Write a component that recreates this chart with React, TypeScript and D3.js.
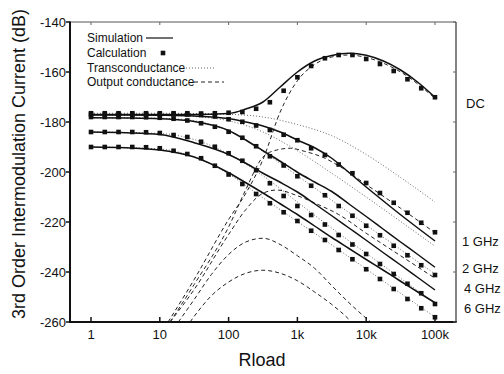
import React from 'react';
import * as d3 from 'd3';

// axis ticks
const yTicks = [-140, -160, -180, -200, -220, -240, -260];
const xTicks = [1, 10, 100, 1000, 10000, 100000];
const xTickLabels = ['1', '10', '100', '1k', '10k', '100k'];

const series = ['DC', '1 GHz', '2 GHz', '4 GHz', '6 GHz'];

// simulation (solid)
const simR = [1, 3.16, 10, 31.6, 100, 178, 316, 562, 1000, 1778, 3162, 5623, 10000, 17780, 31620, 56230, 100000];
const simDC = [-177, -177, -177, -177, -176.6, -174.8, -172, -166, -160, -155.6, -153.4, -152.5, -153.3, -155.6, -159.2, -164.1, -170.1];
const sim1G = [-177.2, -177.2, -177.3, -177.6, -178.6, -180, -181.6, -184, -187.2, -190.3, -194.5, -200.2, -206, -211.6, -217.1, -222.4, -227.6];
const sim2G = [-178.3, -178.4, -178.7, -179.8, -183.4, -187.2, -191.5, -195.7, -200.1, -204, -207.8, -212.8, -217.8, -222.9, -228, -233, -238.1];
const sim4G = [-184, -184.3, -185, -188.3, -193, -196.5, -200.5, -204.1, -208, -212.7, -217.5, -222.4, -227.3, -232.3, -237.2, -242.2, -247.2];
const sim6G = [-190, -190.3, -191.2, -194, -200.3, -204.3, -208.4, -212.7, -217, -221.6, -226.2, -230.6, -235, -239.3, -243.7, -248, -252.3];

// calculation (markers)
const calcR = [1, 1.585, 2.512, 3.981, 6.31, 10, 15.85, 25.12, 39.81, 63.1, 100, 158.5, 251.2, 398.1, 631, 1000, 1585, 2512, 3981, 6310, 10000, 15850, 25120, 39810, 63100, 100000];
const calcDC = [-176.5, -176.5, -176.5, -176.5, -176.5, -176.5, -176.5, -176.5, -176.6, -176.5, -176.3, -176, -174.7, -172.1, -167.5, -162.1, -157.6, -154.5, -153.2, -153.2, -154.8, -156.8, -159.6, -162.9, -166.5, -170.1];
const calc1G = [-177, -177, -177, -177, -177, -177, -177, -177, -177.2, -177.8, -178.9, -179.9, -181.4, -183.2, -185.1, -187.3, -190.5, -193.2, -197, -200.5, -204.4, -208.4, -212.3, -216.3, -220.3, -224.1];
const calc2G = [-178, -178, -178, -178, -178.1, -178.3, -178.7, -179.4, -180.5, -181.9, -183.9, -186.3, -189.7, -193.7, -197.4, -201.7, -205.5, -209.3, -213.6, -217.5, -221.5, -225.3, -229.5, -233.3, -237.3, -241.2];
const calc4G = [-184, -184, -184, -184, -184.1, -184.4, -185.2, -186, -187.9, -189.9, -192.5, -195.5, -199.3, -204.5, -209.6, -213.6, -217.2, -221, -225.2, -229, -232.8, -236.8, -240.8, -244.7, -248.5, -252.8];
const calc6G = [-190, -190, -190, -190, -190.1, -190.5, -191.5, -192.8, -194.5, -197.5, -201, -204.8, -208.8, -212.5, -216.1, -219.6, -223.5, -227.2, -231.2, -234.9, -238.9, -242.8, -246.8, -250.8, -254.5, -258.1];

// transconductance (dotted)
const gmR = [1, 10, 31.6, 100, 316, 1000, 3162, 10000, 31620, 100000];
const gmDC = [-176.5, -176.5, -176.6, -176.9, -178, -181, -185.5, -193, -202.2, -212];
const gm1G = [-177.2, -177.3, -177.8, -179.5, -184, -191.5, -200.5, -210, -219.8, -229.7];
const gm2G = [-178.3, -178.5, -179.5, -183.5, -191.8, -201.5, -211.3, -221.2, -231, -240.8];
const gm4G = [-184, -184.6, -187, -192.8, -201.5, -212, -222.5, -232.5, -242.5, -252.5];
const gm6G = [-190, -190.8, -194, -200.8, -210.3, -219.8, -229.2, -238.8, -248.5, -258];

// output conductance (dashed)
const gdsDCR = [13.2, 31.6, 100, 178, 316, 562, 1000, 1778, 3162, 5623, 10000, 31620, 100000];
const gdsDC = [-260, -243, -219, -208.5, -195, -176, -163.5, -157, -154, -153.2, -154.2, -160, -170.5];
const gds1GR = [14.1, 31.6, 100, 178, 316, 501, 794, 1259, 2512, 3981, 10000, 31620, 100000];
const gds1G = [-260, -245, -222, -207, -194, -191.2, -190.5, -191.7, -194.5, -197.5, -205, -214.5, -224.3];
const gds2GR = [14.1, 31.6, 100, 178, 316, 501, 1000, 1995, 3981, 10000, 31620, 100000];
const gds2G = [-260, -247, -225, -215, -208.5, -207.2, -209.5, -213, -217, -224.5, -233.5, -242.5];
const gds4GR = [18.6, 31.6, 56.2, 100, 178, 316, 562, 1000, 1778, 3162, 5623, 10000, 15850];
const gds4G = [-260, -251, -241, -233, -228, -226.5, -229, -233.5, -238.5, -245.5, -252.3, -258.5, -263];
const gds6GR = [27.5, 56.2, 100, 178, 316, 562, 1000, 1778, 3162, 5623, 7079];
const gds6G = [-260, -249.5, -244, -240.5, -239.3, -240.5, -243.5, -248, -253, -259, -262];

const labelDb = [-172.4, -227.6, -238.4, -246.4, -254.4];

const W = 504;
const H = 374;
const m = { left: 70, right: 48, top: 22, bottom: 52 };
const FONT = '"Liberation Sans", Arial, Helvetica, sans-serif';

const zip = (xs: number[], ys: number[]) => xs.map((v, i) => [v, ys[i]] as [number, number]);

export default function App() {
  const x = d3.scaleLog().domain([0.495, 202000]).range([m.left, W - m.right]);
  const y = d3.scaleLinear().domain([-260, -140]).range([H - m.bottom, m.top]);

  const line = d3
    .line<[number, number]>()
    .x((d) => x(d[0]))
    .y((d) => y(d[1]))
    .curve(d3.curveMonotoneX);

  const sims = [simDC, sim1G, sim2G, sim4G, sim6G];
  const calcs = [calcDC, calc1G, calc2G, calc4G, calc6G];
  const gms = [gmDC, gm1G, gm2G, gm4G, gm6G];
  const gdsList = [
    zip(gdsDCR, gdsDC),
    zip(gds1GR, gds1G),
    zip(gds2GR, gds2G),
    zip(gds4GR, gds4G),
    zip(gds6GR, gds6G),
  ];

  const x0 = m.left;
  const x1 = W - m.right;
  const y0 = m.top;
  const y1 = H - m.bottom;
  const ms = 4.6;

  return (
    <svg
      width={W}
      height={H}
      style={{ position: 'absolute', left: 0, top: 0, background: '#fff' }}
      fontFamily={FONT}
    >
      <defs>
        <clipPath id="plot">
          <rect x={x0} y={y0} width={x1 - x0} height={y1 - y0} />
        </clipPath>
      </defs>

      <g clipPath="url(#plot)">
        {gms.map((g, i) => (
          <path key={'gm' + i} d={line(zip(gmR, g)) || ''} fill="none" stroke="#666" strokeWidth={1} strokeDasharray="1,2" />
        ))}
        {gdsList.map((g, i) => (
          <path key={'gds' + i} d={line(g) || ''} fill="none" stroke="#222" strokeWidth={1} strokeDasharray="4,3" />
        ))}
        {sims.map((s, i) => (
          <path key={'sim' + i} d={line(zip(simR, s)) || ''} fill="none" stroke="#111" strokeWidth={1.5} />
        ))}
        {calcs.map((c, i) =>
          c.map((v, j) => (
            <rect key={'c' + i + '-' + j} x={x(calcR[j]) - ms / 2} y={y(v) - ms / 2} width={ms} height={ms} fill="#111" />
          ))
        )}
      </g>

      {/* frame */}
      <line x1={x0} x2={x1} y1={y0} y2={y0} stroke="#555" strokeWidth={1} />
      <line x1={x1} x2={x1} y1={y0} y2={y1} stroke="#333" strokeWidth={1.2} />
      <line x1={x0} x2={x0} y1={y0 - 0.5} y2={y1 + 1} stroke="#111" strokeWidth={2} />
      <line x1={x0 - 1} x2={x1 + 0.6} y1={y1} y2={y1} stroke="#111" strokeWidth={2} />

      {/* y axis */}
      {yTicks.map((t) => (
        <g key={'yt' + t}>
          <line x1={x0 - 4} x2={x0} y1={y(t)} y2={y(t)} stroke="#111" strokeWidth={1.5} />
          <line x1={x1 - 3} x2={x1} y1={y(t)} y2={y(t)} stroke="#666" strokeWidth={1} />
          <text x={x0 - 4} y={y(t)} dy="0.35em" textAnchor="end" fontSize={13} fill="#111">
            {t}
          </text>
        </g>
      ))}

      {/* x axis */}
      {xTicks.map((t, i) => (
        <g key={'xt' + t}>
          <line x1={x(t)} x2={x(t)} y1={y1} y2={y1 - 5} stroke="#111" strokeWidth={1.5} />
          <line x1={x(t)} x2={x(t)} y1={y0} y2={y0 + 3} stroke="#666" strokeWidth={1} />
          <text x={x(t)} y={y1 + 17} textAnchor="middle" fontSize={13} fill="#111">
            {xTickLabels[i]}
          </text>
        </g>
      ))}

      <text x={262} y={366} textAnchor="middle" fontSize={18} fill="#111">
        Rload
      </text>
      <text transform="translate(25,164) rotate(-90)" textAnchor="middle" fontSize={18} fill="#111">
        3rd Order Intermodulation Current (dB)
      </text>

      {/* series labels */}
      {series.map((s, i) => (
        <text key={'lab' + s} x={i === 0 ? 466 : i < 3 ? 462 : 464} y={y(labelDb[i])} dy="0.35em" fontSize={13} fill="#111">
          {s}
        </text>
      ))}

      {/* legend */}
      <g fontSize={12} fill="#111">
        <text x={87} y={42}>Simulation</text>
        <line x1={146} x2={173} y1={38} y2={38} stroke="#111" strokeWidth={1.2} />
        <text x={87} y={57}>Calculation</text>
        <rect x={163 - ms / 2} y={53 - ms / 2} width={ms} height={ms} fill="#111" />
        <text x={87} y={72}>Transconductance</text>
        <line x1={186} x2={215} y1={68} y2={68} stroke="#666" strokeWidth={1} strokeDasharray="1,2" />
        <text x={87} y={86}>Output conductance</text>
        <line x1={194} x2={224} y1={82} y2={82} stroke="#222" strokeWidth={1} strokeDasharray="4,3" />
      </g>
    </svg>
  );
}
